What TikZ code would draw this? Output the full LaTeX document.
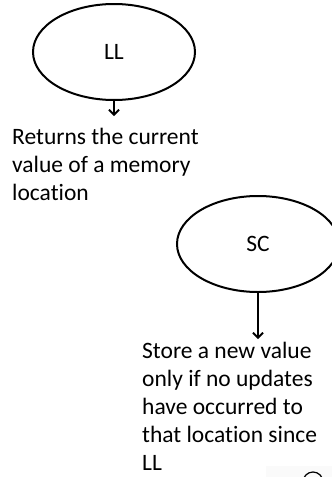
\documentclass[tikz,border=0pt]{standalone}
\usepackage{fontspec}
\setmainfont{Carlito}[Ligatures=NoCommon]
\usetikzlibrary{arrows.meta,shapes.geometric}

\begin{document}
\begin{tikzpicture}[x=1pt,y=-1pt,>={Straight Barb[length=5pt,width=10pt,line width=1.8pt]},
	op/.style = {draw,ellipse,line width=2pt,minimum width=162pt,minimum height=96pt,inner sep=0pt,font=\fontsize{23.5}{28}\selectfont},
	desc/.style = {align=left,inner sep=0pt,font=\fontsize{23.5}{28}\selectfont}
	]
	\clip (0,0) rectangle (332,477);
	%OPERAZIONI
	\node[op] (ll) at (114,52) {LL};
	\node[op] (sc) at (258,244) {SC};
	%DESCRIZIONI
	\node[desc,anchor=north west] (llDesc) at (12,128) {Returns the current\\value of a memory\\location};
	\node[desc,anchor=north west] (scDesc) at (142,342) {Store a new value\\only if no updates\\have occurred to\\that location since\\LL};
	%FRECCE
	\coordinate (llTip) at (ll.south |- 0,116);
	\coordinate (scTip) at (sc.south |- 0,339);
	\draw[->,line width=1.8pt] (ll.south) -- (llTip);
	\draw[->,line width=1.8pt] (sc.south) -- (scTip);
	%resto in basso
	\fill[black!2] (266,466) rectangle (332,477);
	\draw[line width=1.2pt] (313,482) circle (10pt);
\end{tikzpicture}
\end{document}
